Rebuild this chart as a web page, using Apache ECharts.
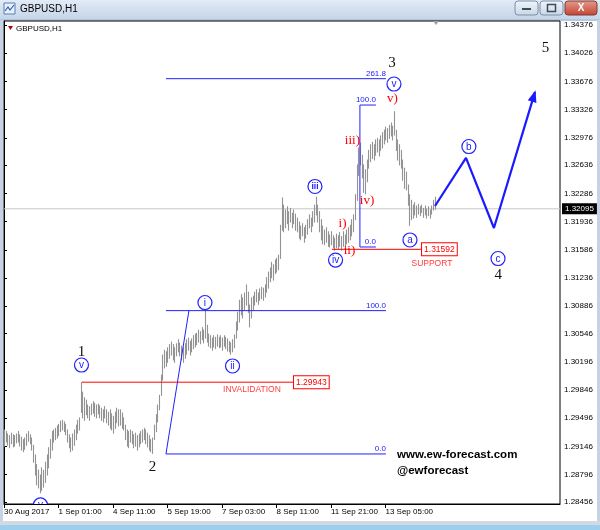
<!DOCTYPE html>
<html><head><meta charset="utf-8">
<script src="https://cdn.jsdelivr.net/npm/echarts@6/dist/echarts.min.js"></script>
<style>html,body{margin:0;padding:0;background:#fff}#c{width:600px;height:530px}</style>
</head><body><div id="c"></div>
<script>
// ---------- data ----------
const timeLabels = ['30 Aug 2017','1 Sep 01:00','4 Sep 11:00','5 Sep 19:00','7 Sep 03:00','8 Sep 11:00','11 Sep 21:00','13 Sep 05:00'];
const timeIdx = [0,32,64,96,128,160,192,224];
const yTicks = [1.34376,1.34026,1.33676,1.33326,1.32976,1.32636,1.32286,1.31936,1.31586,1.31236,1.30886,1.30546,1.30196,1.29846,1.29496,1.29146,1.28796,1.28456];
const lastPrice = 1.32095;

const highs = [
1.2935,1.2933,1.2930,1.2928,1.2931,1.2929,1.2928,1.2930,1.2933,1.2929,
1.2926,1.2923,1.2925,1.2930,1.2933,1.2929,1.2925,1.2916,1.2904,1.2892,
1.2885,1.2879,1.2888,1.2885,1.2895,1.2904,1.2913,1.2923,1.2933,1.2935,
1.2937,1.2940,1.2942,1.2946,1.2947,1.2945,1.2942,1.2935,1.2929,1.2925,
1.2930,1.2935,1.2941,1.2947,1.2950,1.2994,1.2982,1.2975,1.2972,1.2966,
1.2964,1.2967,1.2970,1.2968,1.2966,1.2967,1.2965,1.2962,1.2960,1.2964,
1.2960,1.2957,1.2960,1.2955,1.2952,1.2957,1.2962,1.2960,1.2960,1.2956,
1.2950,1.2941,1.2935,1.2933,1.2935,1.2933,1.2929,1.2931,1.2928,1.2930,
1.2933,1.2935,1.2937,1.2935,1.2931,1.2928,1.2923,1.2925,1.2941,1.2954,
1.2966,1.2978,1.3003,1.3028,1.3034,1.3032,1.3037,1.3041,1.3044,1.3041,
1.3037,1.3042,1.3047,1.3043,1.3039,1.3037,1.3042,1.3047,1.3049,1.3045,
1.3048,1.3052,1.3054,1.3055,1.3059,1.3057,1.3062,1.3059,1.3084,1.3065,
1.3054,1.3052,1.3049,1.3052,1.3050,1.3053,1.3050,1.3052,1.3049,1.3052,
1.3050,1.3048,1.3045,1.3043,1.3047,1.3053,1.3069,1.3081,1.3096,1.3103,
1.3099,1.3105,1.3115,1.3106,1.3090,1.3099,1.3101,1.3106,1.3109,1.3105,
1.3110,1.3112,1.3111,1.3115,1.3124,1.3131,1.3136,1.3143,1.3140,1.3146,
1.3148,1.3152,1.3189,1.3223,1.3214,1.3208,1.3212,1.3206,1.3210,1.3204,
1.3208,1.3203,1.3198,1.3193,1.3188,1.3191,1.3186,1.3189,1.3196,1.3202,
1.3198,1.3206,1.3214,1.3224,1.3214,1.3206,1.3196,1.3188,1.3183,1.3186,
1.3181,1.3177,1.3181,1.3176,1.3173,1.3178,1.3176,1.3180,1.3175,1.3181,
1.3177,1.3183,1.3186,1.3189,1.3196,1.3202,1.3227,1.3264,1.3285,1.3291,
1.3276,1.3264,1.3258,1.3270,1.3282,1.3289,1.3292,1.3289,1.3295,1.3297,
1.3295,1.3300,1.3304,1.3307,1.3311,1.3309,1.3313,1.3316,1.3312,1.3330,
1.3307,1.3295,1.3289,1.3282,1.3270,1.3260,1.3255,1.3239,1.3227,1.3220,
1.3214,1.3217,1.3213,1.3215,1.3212,1.3214,1.3210,1.3213,1.3209,1.3212,
1.3208,1.3213,1.3220,1.3224];

const lows = [
1.2915,1.2920,1.2916,1.2913,1.2918,1.2914,1.2915,1.2919,1.2920,1.2915,
1.2910,1.2908,1.2911,1.2916,1.2921,1.2918,1.2910,1.2895,1.2879,1.2867,
1.2863,1.2857,1.2860,1.2864,1.2870,1.2879,1.2888,1.2900,1.2910,1.2920,
1.2923,1.2925,1.2928,1.2933,1.2935,1.2933,1.2929,1.2920,1.2913,1.2908,
1.2910,1.2916,1.2923,1.2931,1.2935,1.2957,1.2950,1.2947,1.2954,1.2950,
1.2947,1.2954,1.2956,1.2952,1.2950,1.2955,1.2950,1.2947,1.2945,1.2950,
1.2944,1.2941,1.2937,1.2935,1.2931,1.2937,1.2944,1.2940,1.2941,1.2937,
1.2935,1.2923,1.2915,1.2913,1.2920,1.2918,1.2913,1.2915,1.2910,1.2914,
1.2918,1.2920,1.2923,1.2918,1.2914,1.2910,1.2908,1.2906,1.2923,1.2933,
1.2945,1.2960,1.2978,1.2997,1.3012,1.3014,1.3019,1.3024,1.3028,1.3022,
1.3019,1.3027,1.3032,1.3027,1.3022,1.3019,1.3024,1.3029,1.3034,1.3028,
1.3032,1.3036,1.3038,1.3041,1.3044,1.3042,1.3047,1.3043,1.3049,1.3044,
1.3039,1.3037,1.3034,1.3038,1.3036,1.3039,1.3037,1.3038,1.3034,1.3039,
1.3036,1.3033,1.3032,1.3029,1.3032,1.3037,1.3049,1.3059,1.3069,1.3078,
1.3074,1.3084,1.3090,1.3081,1.3063,1.3074,1.3084,1.3090,1.3094,1.3091,
1.3096,1.3098,1.3096,1.3100,1.3106,1.3111,1.3119,1.3124,1.3121,1.3129,
1.3131,1.3134,1.3148,1.3183,1.3181,1.3186,1.3191,1.3183,1.3193,1.3186,
1.3191,1.3183,1.3181,1.3173,1.3171,1.3176,1.3168,1.3173,1.3178,1.3186,
1.3181,1.3188,1.3193,1.3202,1.3193,1.3181,1.3171,1.3166,1.3165,1.3168,
1.3163,1.3162,1.3165,1.3161,1.3158,1.3161,1.3160,1.3163,1.3158,1.3163,
1.3161,1.3166,1.3168,1.3171,1.3176,1.3181,1.3196,1.3220,1.3251,1.3264,
1.3248,1.3230,1.3228,1.3243,1.3260,1.3268,1.3272,1.3270,1.3276,1.3280,
1.3275,1.3282,1.3285,1.3290,1.3295,1.3292,1.3297,1.3300,1.3295,1.3301,
1.3282,1.3270,1.3264,1.3260,1.3245,1.3235,1.3233,1.3214,1.3189,1.3196,
1.3198,1.3202,1.3199,1.3203,1.3201,1.3205,1.3199,1.3202,1.3198,1.3201,
1.3198,1.3203,1.3208,1.3209];

// annotation values (bar index, price)
const waveNumbers = [['1',45.5,1.30318],['2',87.2,1.28890],['3',227.8,1.33904],['4',290.2,1.31274],['5',318.0,1.34090]];
const redWaves = [['v)',228.1,1.33464],['iii)',204.6,1.32943],['iv)',213.2,1.32198],['i)',198.8,1.31906],['ii)',202.9,1.31571]];
const circled = [['v',229.0,1.33644],['iii',182.6,1.32372],['iv',194.7,1.31459],['i',118.0,1.30932],['ii',134.2,1.30144],['v',45.5,1.30156],['v',21.4,1.28419],['a',238.4,1.31708],['b',273.0,1.32868],['c',290.1,1.31478]];

const fibAStart = 95.1, fibAEnd = 224.3;
const fibAPrices = [1.29052, 1.30831, 1.33710];
const fibALabels = ['0.0','100.0','261.8'];
const fibAConnector = [[95.1,1.29052],[108.6,1.30831]];

const fibBX = 209.0, fibBEnd = 218.4;
const fibBPrices = [1.31621, 1.33383];
const fibBLabels = ['0.0','100.0'];

const invalidation = {price:1.29943, from:45.8, to:169.7, labelAt:145.6, labelPrice:1.29852, text:'INVALIDATION'};
const support = {price:1.31592, from:192.6, to:244.9, labelAt:251.3, labelPrice:1.31418, text:'SUPPORT'};

const projection = [[253.1,1.32130],[271.3,1.32726],[287.7,1.31857],[311.8,1.33544]];

// ---------- chart ----------
const BLUE = '#2020ff', RED = '#ff0000', XMAX = 326.5;
const chart = echarts.init(document.getElementById('c'), null, {renderer:'canvas'});

function lineSeries(points, color, width, z) {
  return {type:'line', data:points, symbol:'none', silent:true, animation:false, z:z||4,
    lineStyle:{color:color, width:width||1}, clip:false};
}
function textSeries(items, font, color, opts) {
  opts = opts || {};
  return {type:'custom', silent:true, animation:false, z:opts.z||6, clip:!!opts.clip,
    data: items.map(d => [d[1], d[2]]), encode:{x:0, y:1},
    renderItem:(params, api) => {
      const p = api.coord([api.value(0), api.value(1)]);
      const st = Object.assign({text: items[params.dataIndex][0], font:font, fill:color,
        align: opts.align||'center', verticalAlign: opts.vAlign||'middle'}, opts.style||{});
      return {type:'text', x:p[0]+(opts.dx||0), y:p[1]+(opts.dy||0), style:st};
    }};
}

const series = [];
// current price line (behind bars)
series.push(lineSeries([[0,lastPrice],[XMAX,lastPrice]], '#c8c8c8', 1, 1));
// price bars (high-low)
series.push({
  type:'custom', silent:true, animation:false, z:2, clip:true,
  data: highs.map((h,i) => [i, lows[i], h]), encode:{x:0, y:[1,2]},
  renderItem:(params, api) => {
    const a = api.coord([api.value(0), api.value(1)]);
    const b = api.coord([api.value(0), api.value(2)]);
    const x = Math.round(a[0]) + 0.5;
    return {type:'line', shape:{x1:x, y1:a[1]+0.5, x2:x, y2:b[1]-0.5}, style:{stroke:'#939393', lineWidth:1.1}};
  }
});
// current price tag
series.push(textSeries([[lastPrice.toFixed(5), XMAX, lastPrice]], '8px Liberation Sans', '#fff',
  {align:'left', vAlign:'middle', dx:2, style:{backgroundColor:'#000', padding:[2,3,1,3]}}));

// Fibonacci A
fibAPrices.forEach(p => series.push(lineSeries([[fibAStart,p],[fibAEnd,p]], BLUE, 1)));
series.push(lineSeries(fibAConnector, BLUE, 1));
series.push(textSeries(fibAPrices.map((p,i) => [fibALabels[i], fibAEnd, p]), '8px Liberation Sans', BLUE, {align:'right', vAlign:'bottom', dy:-1}));
// Fibonacci B
series.push(lineSeries([[fibBX,fibBPrices[0]],[fibBX,fibBPrices[1]]], BLUE, 1));
fibBPrices.forEach(p => series.push(lineSeries([[fibBX,p],[fibBEnd,p]], BLUE, 1)));
series.push(textSeries(fibBPrices.map((p,i) => [fibBLabels[i], fibBEnd, p]), '8px Liberation Sans', BLUE, {align:'right', vAlign:'bottom', dy:-1}));

// red horizontal levels
[invalidation, support].forEach(l => {
  series.push(lineSeries([[l.from,l.price],[l.to,l.price]], RED, 1));
  series.push(textSeries([[l.price.toFixed(5), l.to, l.price]], '8.5px Liberation Sans', RED,
    {align:'left', vAlign:'middle', dx:1, style:{backgroundColor:'#fff', borderColor:RED, borderWidth:1, padding:[2,2,1,2]}}));
  series.push(textSeries([[l.text, l.labelAt, l.labelPrice]], '8.5px Liberation Sans', '#ff3b3b'));
});

// projected path with arrow head
series.push(lineSeries(projection, '#1a1aff', 2.2, 5));
series.push({type:'custom', silent:true, animation:false, z:6, clip:false,
  data:[[projection[3][0], projection[3][1], projection[2][0], projection[2][1]]], encode:{x:[0,2], y:[1,3]},
  renderItem:(params, api) => {
    const tip = api.coord([api.value(0), api.value(1)]);
    const from = api.coord([api.value(2), api.value(3)]);
    const ang = Math.atan2(tip[1]-from[1], tip[0]-from[0]);
    const L = 10, W = 4.5;
    const bx = tip[0]-L*Math.cos(ang), by = tip[1]-L*Math.sin(ang);
    const px = -Math.sin(ang)*W, py = Math.cos(ang)*W;
    return {type:'polygon', shape:{points:[[tip[0]+2*Math.cos(ang),tip[1]+2*Math.sin(ang)],[bx+px,by+py],[bx-px,by-py]]}, style:{fill:'#1a1aff'}};
  }});

// wave labels
series.push(textSeries(waveNumbers, '15px Liberation Serif', '#111'));
series.push(textSeries(redWaves, '13px Liberation Serif', RED));
// circled labels
series.push({type:'custom', silent:true, animation:false, z:7, clip:true,
  data: circled.map(d => [d[1], d[2]]), encode:{x:0, y:1},
  renderItem:(params, api) => {
    const p = api.coord([api.value(0), api.value(1)]);
    const t = circled[params.dataIndex][0];
    return {type:'group', children:[
      {type:'circle', shape:{cx:p[0], cy:p[1], r:7}, style:{fill:'#fff', stroke:BLUE, lineWidth:1.2}},
      {type:'text', x:p[0], y:p[1]+0.5, style:{text:t, font:(t.length>2?'bold 8.5px':'10px')+' Liberation Sans', fill:BLUE, align:'center', verticalAlign:'middle'}}
    ]};
  }});

const option = {
  animation:false,
  backgroundColor:'#fff',
  grid:{left:4, top:21, width:556, height:483, show:true, borderColor:'#000', borderWidth:1, backgroundColor:'#fff'},
  xAxis:{type:'value', min:0, max:XMAX, position:'bottom',
    axisLine:{show:true, lineStyle:{color:'#000'}},
    splitLine:{show:false},
    axisTick:{show:true, customValues:timeIdx, length:4, lineStyle:{color:'#000'}},
    axisLabel:{customValues:timeIdx, formatter:v => timeLabels[timeIdx.indexOf(v)] || '', align:'left', margin:4,
      fontSize:8, fontFamily:'Liberation Sans', color:'#000', showMinLabel:true, showMaxLabel:true, hideOverlap:false}},
  yAxis:{type:'value', position:'right', min:1.28431, max:1.34426, scale:true,
    axisLine:{show:true, lineStyle:{color:'#000'}},
    splitLine:{show:false},
    axisTick:{show:true, customValues:yTicks, length:3, lineStyle:{color:'#000'}},
    axisLabel:{customValues:yTicks, formatter:v => v.toFixed(5), margin:4, fontSize:8, fontFamily:'Liberation Sans', color:'#000',
      showMinLabel:true, showMaxLabel:true}},
  series:series,
  graphic:[
    // title bar
    {type:'rect', shape:{x:0,y:0,width:600,height:20}, z:-5,
      style:{fill:new echarts.graphic.LinearGradient(0,0,0,1,[{offset:0,color:'#e2ebf6'},{offset:1,color:'#c3d4e9'}])}},
    {type:'rect', shape:{x:0,y:19,width:600,height:2}, z:-5, style:{fill:'#b7c7db'}},
    {type:'rect', shape:{x:4,y:3,width:11,height:11}, z:1, style:{fill:'#e8f0fa', stroke:'#5a7fb0', lineWidth:1}},
    {type:'polyline', shape:{points:[[5,11],[8,7],[10,10],[14,5]]}, z:2, style:{stroke:'#2a62b8', lineWidth:1.2, fill:null}},
    {type:'text', x:20, y:9.5, z:1, style:{text:'GBPUSD,H1', font:'10px Liberation Sans', fill:'#000', verticalAlign:'middle'}},
    {type:'rect', shape:{x:515,y:1,width:23,height:14,r:3}, z:1, style:{fill:new echarts.graphic.LinearGradient(0,0,0,1,[{offset:0,color:'#f1f5fa'},{offset:1,color:'#c9d6e6'}]), stroke:'#7d8fa8', lineWidth:1}},
    {type:'rect', shape:{x:522,y:8,width:9,height:2}, z:2, style:{fill:'#3c4a5e'}},
    {type:'rect', shape:{x:540,y:1,width:23,height:14,r:3}, z:1, style:{fill:new echarts.graphic.LinearGradient(0,0,0,1,[{offset:0,color:'#f1f5fa'},{offset:1,color:'#c9d6e6'}]), stroke:'#7d8fa8', lineWidth:1}},
    {type:'rect', shape:{x:547.5,y:4.5,width:8,height:7}, z:2, style:{fill:null, stroke:'#3c4a5e', lineWidth:1.5}},
    {type:'rect', shape:{x:565,y:1,width:32,height:14,r:3}, z:1, style:{fill:new echarts.graphic.LinearGradient(0,0,0,1,[{offset:0,color:'#e79b8e'},{offset:1,color:'#c2432f'}]), stroke:'#7d3b33', lineWidth:1}},
    {type:'text', x:581, y:8.5, z:2, style:{text:'X', font:'bold 10px Liberation Sans', fill:'#fff', align:'center', verticalAlign:'middle'}},
    // window borders
    {type:'rect', shape:{x:0,y:20,width:3,height:510}, z:-5, style:{fill:'#c5d3e4'}},
    {type:'rect', shape:{x:597,y:20,width:3,height:510}, z:-5, style:{fill:'#c5d3e4'}},
    {type:'rect', shape:{x:0,y:521,width:600,height:4}, z:-5, style:{fill:'#d3d9e1'}},
    {type:'rect', shape:{x:0,y:525,width:600,height:5}, z:-5, style:{fill:'#9ccfee'}},
    // chart caption
    {type:'polygon', shape:{points:[[8,26],[13,26],[10.5,30]]}, z:10, style:{fill:'#b00000'}},
    {type:'text', x:16, y:28.5, z:10, style:{text:'GBPUSD,H1', font:'8px Liberation Sans', fill:'#000', verticalAlign:'middle'}},
    {type:'polygon', shape:{points:[[433,21],[439,21],[436,25]]}, z:10, style:{fill:'#a0a0a0'}},
    // watermark
    {type:'text', x:397, y:455, z:20, style:{text:'www.ew-forecast.com', font:'bold 11.5px Liberation Sans', fill:'#000', verticalAlign:'middle'}},
    {type:'text', x:397, y:471, z:20, style:{text:'@ewforecast', font:'bold 11.5px Liberation Sans', fill:'#000', verticalAlign:'middle'}}
  ]
};
chart.setOption(option);
</script>
</body></html>
